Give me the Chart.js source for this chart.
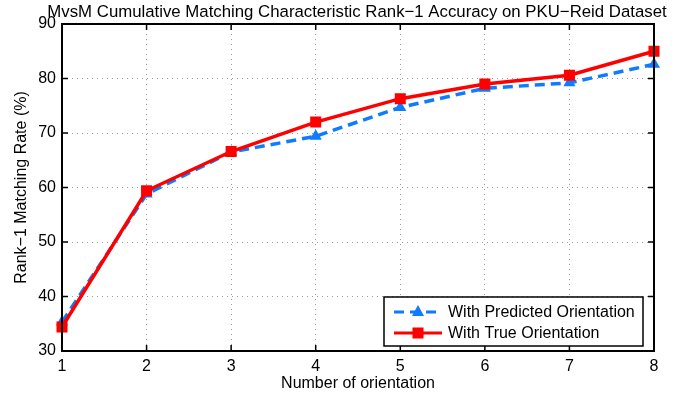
<!DOCTYPE html>
<html>
<head>
<meta charset="utf-8">
<script src="https://cdn.jsdelivr.net/npm/chart.js@4.4.0/dist/chart.umd.min.js"></script>
<style>
  body { margin: 0; background: #fff; }
  #wrap { width: 678px; height: 401px; }
</style>
</head>
<body>
<div id="wrap"><canvas id="cmcChart" width="678" height="401"></canvas></div>
<script>
// data
const orientations = ['1', '2', '3', '4', '5', '6', '7', '8'];
const predictedOrientation = [35.3, 58.8, 66.5, 69.4, 74.7, 78.2, 79.2, 82.6];
const trueOrientation = [34.4, 59.4, 66.6, 72.0, 76.3, 79.0, 80.6, 85.0];
const yTicks = [30, 40, 50, 60, 70, 80, 90];
const chartTitle = 'MvsM Cumulative Matching Characteristic Rank\u22121 Accuracy on PKU\u2212Reid Dataset';

const blue = '#0f7bff';
const red = '#ff0000';
const font = 'Liberation Sans, Arial, Helvetica, sans-serif';

// title centred over the plot, wider than the plot itself
const titlePlugin = {
  id: 'plotTitle',
  afterDraw(chart) {
    const ctx = chart.ctx;
    const a = chart.chartArea;
    ctx.save();
    ctx.fillStyle = '#000';
    ctx.font = '16.8px ' + font;
    ctx.textAlign = 'center';
    ctx.textBaseline = 'middle';
    ctx.fillText(chartTitle, (a.left + a.right) / 2 - 1, 12);
    ctx.restore();
  }
};

// box round the plot, with inward tick marks like matlab
const framePlugin = {
  id: 'frame',
  afterDatasetsDraw(chart) {
    const ctx = chart.ctx;
    const a = chart.chartArea;
    const xs = chart.scales.x;
    const ys = chart.scales.y;
    ctx.save();
    ctx.strokeStyle = '#000';
    ctx.lineWidth = 1.5;
    ctx.beginPath();
    orientations.forEach((o, i) => {
      const px = xs.getPixelForValue(i);
      ctx.moveTo(px, a.bottom); ctx.lineTo(px, a.bottom - 6);
      ctx.moveTo(px, a.top); ctx.lineTo(px, a.top + 6);
    });
    yTicks.forEach(v => {
      const py = ys.getPixelForValue(v);
      ctx.moveTo(a.left, py); ctx.lineTo(a.left + 6, py);
      ctx.moveTo(a.right, py); ctx.lineTo(a.right - 6, py);
    });
    ctx.stroke();
    ctx.lineWidth = 2;
    ctx.strokeRect(a.left, a.top, a.right - a.left, a.bottom - a.top);
    ctx.restore();
  }
};

// legend inside the lower right corner
const legendPlugin = {
  id: 'boxLegend',
  afterDraw(chart) {
    const ctx = chart.ctx;
    const a = chart.chartArea;
    const w = 259, h = 49;
    const x = a.right - 11 - w;
    const y = a.bottom - 5 - h;
    ctx.save();
    ctx.fillStyle = '#fff';
    ctx.fillRect(x, y, w, h);
    ctx.strokeStyle = '#000';
    ctx.lineWidth = 1.5;
    ctx.strokeRect(x, y, w, h);

    const rows = [chart.data.datasets[1], chart.data.datasets[0]];
    rows.forEach((ds, i) => {
      const cy = y + 15 + i * 21;
      ctx.strokeStyle = ds.borderColor;
      ctx.lineWidth = 3;
      ctx.setLineDash(ds.borderDash || []);
      ctx.beginPath();
      ctx.moveTo(x + 10, cy);
      ctx.lineTo(x + 58, cy);
      ctx.stroke();
      ctx.setLineDash([]);
      ctx.fillStyle = ds.backgroundColor;
      const mx = x + 34;
      if (ds.pointStyle === 'triangle') {
        ctx.beginPath();
        ctx.moveTo(mx, cy - 7);
        ctx.lineTo(mx + 6, cy + 4);
        ctx.lineTo(mx - 6, cy + 4);
        ctx.closePath();
        ctx.fill();
      } else {
        ctx.fillRect(mx - 5.5, cy - 5.5, 11, 11);
      }
      ctx.fillStyle = '#000';
      ctx.font = '16px ' + font;
      ctx.textBaseline = 'middle';
      ctx.fillText(ds.label, x + 64, cy + 1);
    });
    ctx.restore();
  }
};

const ctx = document.getElementById('cmcChart').getContext('2d');

new Chart(ctx, {
  type: 'line',
  data: {
    labels: orientations,
    datasets: [
      {
        label: 'With True Orientation',
        data: trueOrientation,
        borderColor: red,
        backgroundColor: red,
        borderWidth: 3.5,
        pointStyle: 'rect',
        pointRadius: 7.8,
        pointBorderWidth: 0,
        tension: 0,
        order: 1
      },
      {
        label: 'With Predicted Orientation',
        data: predictedOrientation,
        borderColor: blue,
        backgroundColor: blue,
        borderWidth: 3.5,
        borderDash: [10, 6],
        pointStyle: 'triangle',
        pointRadius: 7,
        pointBorderWidth: 0,
        tension: 0,
        order: 2
      }
    ]
  },
  options: {
    responsive: false,
    animation: false,
    devicePixelRatio: 1,
    layout: { padding: { left: 0, right: 24, top: 24, bottom: 0 } },
    plugins: {
      legend: { display: false },
      tooltip: { enabled: false },
      title: { display: false }
    },
    scales: {
      x: {
        offset: false,
        grid: { color: '#9a9a9a', drawTicks: false },
        border: { display: false, dash: [1, 4] },
        ticks: { color: '#000', font: { family: font, size: 16 }, padding: 6, maxRotation: 0 },
        title: {
          display: true,
          text: 'Number of orientation',
          color: '#000',
          font: { family: font, size: 16 },
          padding: { top: 0, bottom: 8 }
        },
        afterFit(scale) { scale.height = 50; }
      },
      y: {
        min: 30,
        max: 90,
        afterBuildTicks(scale) { scale.ticks = yTicks.map(v => ({ value: v })); },
        grid: { color: '#9a9a9a', drawTicks: false },
        border: { display: false, dash: [1, 4] },
        ticks: { color: '#000', font: { family: font, size: 16 }, padding: 6 },
        title: {
          display: true,
          text: 'Rank\u22121 Matching Rate (%)',
          color: '#000',
          font: { family: font, size: 16 },
          padding: { top: 12, bottom: 0 }
        },
        afterFit(scale) { scale.width = 62; }
      }
    }
  },
  plugins: [framePlugin, legendPlugin, titlePlugin]
});
</script>
</body>
</html>
